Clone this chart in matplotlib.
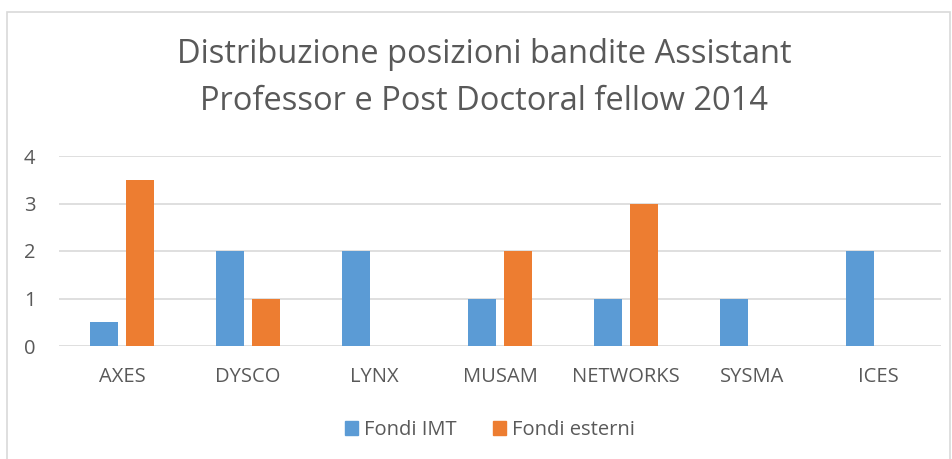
import numpy as np
import matplotlib.pyplot as plt
from matplotlib.patches import Patch, Rectangle

plt.rcParams['font.family'] = ['Open Sans', 'DejaVu Sans']

GROUPS      = ["AXES", "DYSCO", "LYNX", "MUSAM", "NETWORKS", "SYSMA", "ICES"]
FONDI_IMT   = [0.5, 2, 2, 1, 1, 1, 2]
FONDI_EST   = [3.5, 1, 0, 2, 3, 0, 0]
YTICKS      = [0, 1, 2, 3, 4]
TITLE       = "Distribuzione posizioni bandite Assistant\nProfessor e Post Doctoral fellow 2014"

BLUE   = "#5B9BD5"
ORANGE = "#ED7D31"
TEXT   = "#595959"
GRID   = "#D9D9D9"

W, H = 952, 459
fig = plt.figure(figsize=(W / 100, H / 100), dpi=100)

# chart border
fig.patches.append(Rectangle((7 / W, -0.02), 943 / W, 1 - 12 / H + 0.02,
                             transform=fig.transFigure, fill=False,
                             edgecolor=GRID, linewidth=1.2))

ax = fig.add_axes([59 / W, 1 - 346 / H, 882 / W, 190 / H])
x = np.arange(len(GROUPS))
bw = 0.222
ax.bar(x - 0.143, FONDI_IMT, width=bw, color=BLUE, zorder=3)
ax.bar(x + 0.143, FONDI_EST, width=bw, color=ORANGE, zorder=3)

ax.set_xlim(-0.5, len(GROUPS) - 0.5)
ax.set_ylim(0, 4)
ax.set_yticks(YTICKS)
ax.set_xticks(x)
ax.set_xticklabels(GROUPS)
ax.yaxis.grid(True, color=GRID, linewidth=1.2, zorder=0)
for s in ax.spines.values():
    s.set_visible(False)
ax.tick_params(axis='both', length=0, labelsize=14.5, colors=TEXT)
ax.tick_params(axis='y', pad=17)
ax.tick_params(axis='x', pad=15)

fig.text(484 / W, 1 - 78 / H, TITLE, ha='center', va='center',
         fontsize=23.5, color=TEXT, linespacing=1.55)

handles = [Patch(color=BLUE, label="Fondi IMT"),
           Patch(color=ORANGE, label="Fondi esterni")]
fig.legend(handles=handles, loc='center', bbox_to_anchor=(490 / W, 1 - 430 / H),
           ncol=2, frameon=False, fontsize=14.5, labelcolor=TEXT,
           handlelength=0.65, handleheight=0.65, handletextpad=0.3, columnspacing=1.8)

fig.savefig("out.png", dpi=100, facecolor="white")
